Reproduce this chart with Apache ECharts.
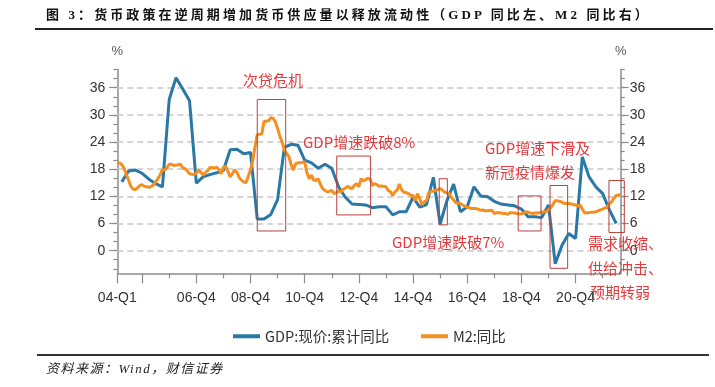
<!DOCTYPE html>
<html><head><meta charset="utf-8">
<script src="https://cdn.jsdelivr.net/npm/echarts@6/dist/echarts.min.js"></script>
<style>
html,body{margin:0;padding:0;background:#fff;}
#wrap{position:relative;width:715px;height:387px;overflow:hidden;background:#fff;}
#chart{position:absolute;left:0;top:0;width:715px;height:387px;}
#title{position:absolute;left:46px;top:6px;font:bold 13px/18px "Liberation Serif","Noto Sans CJK SC";letter-spacing:3.1px;color:#111;white-space:nowrap;}
#tline{position:absolute;left:35px;top:28px;width:678px;height:2px;background:#222;}
#bline{position:absolute;left:37px;top:354px;width:672px;height:2px;background:#333;}
#src{position:absolute;left:46px;top:360px;font:italic 13px/18px "Liberation Serif","Noto Sans CJK SC";letter-spacing:1.5px;color:#222;white-space:nowrap;}
</style></head>
<body>
<div id="wrap">
  <div id="chart"></div>
  <div id="title">图 3：货币政策在逆周期增加货币供应量以释放流动性（GDP 同比左、M2 同比右）</div>
  <div id="tline"></div>
  <div id="bline"></div>
  <div id="src">资料来源：Wind，财信证券</div>
</div>
<script>
// ---- data ----
const startYear = 2004, monthCount = 224; // 2004-01 .. 2022-08, monthly categories
const tickLabels = ['04-Q1','06-Q4','08-Q4','10-Q4','12-Q4','14-Q4','16-Q4','18-Q4','20-Q4'];
const yTickLabels = [0, 6, 12, 18, 24, 30, 36];
const seriesNames = ['GDP:现价:累计同比', 'M2:同比'];
// GDP, quarterly (2004Q1 .. 2022Q2), left axis
const gdp = [15.2,17.6,17.8,17.1, 15.8,14.8,14.1,33.4, 38.2,35.7,33.1,14.9, 16.3,16.8,17.2,17.7,
  22.3,22.4,21.4,21.7, 7.0,7.0,8.0,11.3, 22.8,23.5,23.3,20.0, 19.4,18.2,19.1,18.2,
  14.1,11.8,10.3,10.2, 10.1,9.5,9.7,9.7, 7.9,8.6,8.6,11.8, 9.6,10.2,16.2,5.9,
  11.0,14.7,8.6,9.7, 14.1,12.1,11.9,10.9, 10.3,10.1,9.9,9.2, 7.5,7.5,7.3,10.1,
  -2.9,1.2,3.8,2.7, 20.7,16.3,14.1,12.6, 9.0,6.0];
// M2, monthly (2004-01 .. 2022-08), right axis
const m2 = [
  19.3,19.4,19.0,18.2,16.8,15.6,14.2,13.6,13.5,13.9,14.4,14.6,
  14.2,14.1,14.0,14.2,14.5,15.2,15.9,16.8,17.9,17.8,18.3,19.1,
  19.1,18.8,18.9,19.0,19.1,18.3,18.1,17.6,17.0,16.9,16.8,17.1,
  17.8,17.3,16.7,17.2,17.7,18.3,18.4,18.2,18.5,17.9,17.0,18.4,
  18.6,17.5,16.3,17.0,17.9,17.3,16.1,15.6,15.2,15.0,16.4,17.8,
  19.9,23.0,25.6,25.7,25.8,28.6,28.6,28.7,29.4,29.2,28.5,27.0,
  25.3,24.0,22.2,21.5,20.8,19.0,17.8,19.2,19.4,19.4,19.5,19.6,
  17.2,15.9,16.7,15.6,15.5,15.9,14.6,13.7,13.3,13.0,13.1,13.3,
  12.6,12.8,13.2,13.0,13.5,13.8,14.2,13.9,13.7,14.4,14.8,14.1,
  15.9,15.4,15.7,16.0,15.8,14.4,14.8,14.6,14.2,14.3,14.2,14.1,
  13.3,13.0,12.2,13.0,13.4,14.7,13.4,12.9,12.8,12.6,12.2,12.2,
  11.1,12.6,11.4,10.1,10.8,11.1,12.9,13.1,13.1,13.3,13.5,13.7,
  13.4,12.9,12.8,12.6,11.8,11.2,10.6,10.5,10.4,10.1,9.8,9.6,
  9.5,9.3,9.3,9.3,9.1,8.9,9.0,8.8,8.8,8.9,8.9,8.2,
  8.4,8.4,8.3,8.2,8.2,8.0,8.4,8.4,8.3,8.2,8.1,8.1,
  8.3,8.6,8.5,8.3,8.2,8.3,8.3,8.4,8.5,8.6,8.6,9.0,
  9.5,10.2,11.1,11.0,10.9,10.7,10.4,10.4,10.4,10.3,10.2,10.1,
  9.8,10.1,9.2,8.3,8.4,8.4,8.5,8.5,8.6,8.8,9.0,9.2,
  9.4,9.7,10.3,10.8,11.6,12.2,12.3,12.4];

// ---- annotations (data-space boxes: month index / percent) ----
const boxes = [
  [62.0, 74.6, 33.4, 4.35],
  [97.2, 112.2, 20.9, 7.9],
  [142.6, 146.2, 15.9, 5.7],
  [177.6, 187.7, 12.1, 4.35],
  [191.7, 199.5, 14.4, -3.9],
  [217.8, 224.6, 15.5, 4.0]
];
const notes = [
  ['次贷危机', 243, 80],
  ['GDP增速跌破8%', 303, 142],
  ['GDP增速跌破7%', 392, 242],
  ['GDP增速下滑及', 485, 148],
  ['新冠疫情爆发', 485, 172],
  ['需求收缩、', 588, 243],
  ['供给冲击、', 588, 268],
  ['预期转弱', 590, 292]
];

// ---- build ----
const months = [];
for (let i = 0; i < monthCount; i++) months.push([startYear + Math.floor(i / 12), i % 12 + 1]);
const qLabel = i => String(months[i][0] % 100).padStart(2, '0') + '-Q' + Math.ceil(months[i][1] / 3);
const labelIdx = tickLabels.map(l => months.findIndex((mm, i) => qLabel(i) === l && (i === 0 || mm[1] % 3 === 0)));
const labelOf = {}; labelIdx.forEach((ix, k) => labelOf[ix] = tickLabels[k]);
const majorTicks = [], minorTicks = [];
months.forEach((mm, i) => {
  if (i === 0 || (mm[1] === 12 && mm[0] % 2 === 0)) majorTicks.push(i);
  else if (mm[1] === 12) minorTicks.push(i);
});
const gdpData = gdp.map((v, q) => [q * 3 + 2, v]);
const m2Data = m2.map((v, i) => [i, v]);
const yMinor = []; for (let v = -4; v <= 40; v += 2) yMinor.push(v);

const axisColor = '#8c8c8c';
const labelFont = {fontSize: 14, fontFamily: 'Liberation Sans', color: '#333'};
function yAx(pos, major) {
  return {
    type: 'value', position: pos, min: -5, max: 40, offset: 0,
    name: major ? '%' : '', nameLocation: 'end', nameGap: 12,
    nameTextStyle: {color: '#555', fontSize: 13, fontFamily: 'Liberation Sans', align: 'center', padding: 0},
    axisLine: {show: major, lineStyle: {color: axisColor, width: 1.5}},
    axisTick: {show: true, inside: false, length: major ? 8 : 4, customValues: major ? yTickLabels : yMinor,
      lineStyle: {color: axisColor, width: 1.2}},
    axisLabel: major ? Object.assign({show: true, customValues: yTickLabels, margin: pos === 'left' ? 12 : 9}, labelFont) : {show: false},
    splitLine: {show: false}
  };
}

const chart = echarts.init(document.getElementById('chart'), null, {renderer: 'canvas'});
const legendText = {fontSize: 14.5, color: '#333', fontFamily: 'Noto Sans CJK SC'};
chart.setOption({
  animation: false,
  grid: {left: 117.3, right: 94.3, top: 69.6, bottom: 113.7},
  legend: [
    {data: [seriesNames[0]], left: 228, top: 324, itemWidth: 27, itemHeight: 4, icon: 'rect', textStyle: legendText},
    {data: [seriesNames[1]], left: 416, top: 324, itemWidth: 27, itemHeight: 4, icon: 'rect', textStyle: legendText}
  ],
  xAxis: [
    {type: 'value', min: 0, max: monthCount - 1, position: 'bottom', offset: 0,
      axisLine: {show: true, onZero: false, lineStyle: {color: axisColor, width: 1.5}},
      axisTick: {show: true, length: 10, customValues: majorTicks, lineStyle: {color: axisColor, width: 1.2}},
      axisLabel: Object.assign({customValues: labelIdx, formatter: v => labelOf[v] || '', margin: 18}, labelFont),
      splitLine: {show: false}},
    {type: 'value', min: 0, max: monthCount - 1, position: 'bottom', offset: 0,
      axisLine: {show: false, onZero: false},
      axisTick: {show: true, length: 5, customValues: minorTicks, lineStyle: {color: axisColor, width: 1.2}},
      axisLabel: {show: false}, splitLine: {show: false}}
  ],
  yAxis: [yAx('left', true), yAx('left', false), yAx('right', true), yAx('right', false)],
  series: [
    {name: seriesNames[0], type: 'line', xAxisIndex: 0, yAxisIndex: 0, data: gdpData,
      symbol: 'none', z: 3, lineStyle: {color: '#2a78a6', width: 3}, itemStyle: {color: '#2a78a6'},
      markLine: {silent: true, symbol: 'none', z: 1, label: {show: false}, animation: false,
        lineStyle: {type: [6, 4], color: '#c8c8c8', width: 1.5},
        data: yTickLabels.map(v => ({yAxis: v}))}},
    {name: seriesNames[1], type: 'line', xAxisIndex: 0, yAxisIndex: 2, data: m2Data,
      symbol: 'none', z: 4, lineStyle: {color: '#f58f1f', width: 3}, itemStyle: {color: '#f58f1f'}}
  ]
});

const graphics = [];
boxes.forEach(b => {
  const p0 = chart.convertToPixel({xAxisIndex: 0, yAxisIndex: 0}, [b[0], b[2]]);
  const p1 = chart.convertToPixel({xAxisIndex: 0, yAxisIndex: 0}, [b[1], b[3]]);
  graphics.push({type: 'rect', z: 10, silent: true,
    shape: {x: p0[0], y: p0[1], width: p1[0] - p0[0], height: p1[1] - p0[1]},
    style: {fill: 'none', stroke: '#b8403f', lineWidth: 1}});
});
notes.forEach(n => {
  graphics.push({type: 'text', z: 11, silent: true, x: n[1], y: n[2],
    style: {text: n[0], fill: '#e23b3e', fontSize: 15, fontFamily: 'Noto Sans CJK SC', verticalAlign: 'middle', align: 'left'}});
});
chart.setOption({graphic: graphics});
</script>
</body></html>
